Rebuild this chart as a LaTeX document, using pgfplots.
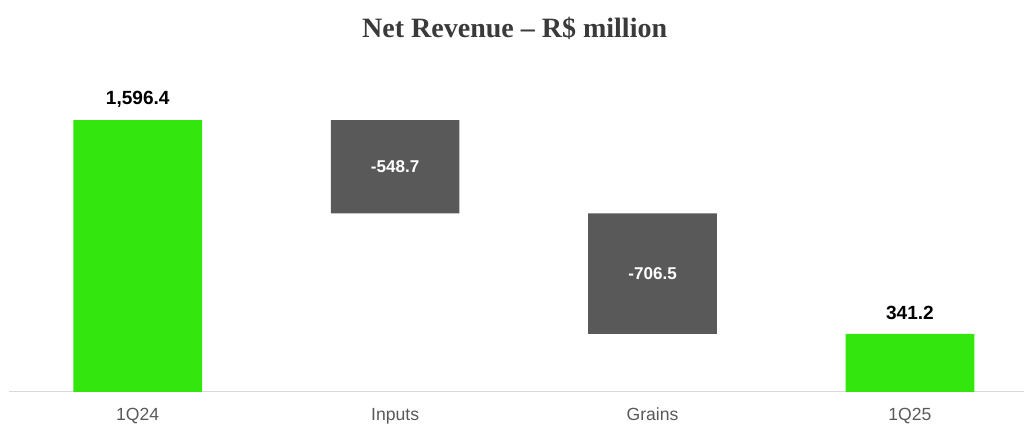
\documentclass[border=0pt]{standalone}
\usepackage{pgfplots}
\pgfplotsset{compat=1.18}
\usepackage{fontspec}
\setmainfont{Liberation Sans}
\newfontfamily\titlefont{Liberation Serif}
\definecolor{barGreen}{HTML}{33E60E}
\definecolor{barGray}{HTML}{595959}
\definecolor{labelGray}{HTML}{595959}
\definecolor{axisGray}{HTML}{D9D9D9}
\definecolor{titleGray}{HTML}{3A3A3A}

\begin{document}
\begin{tikzpicture}[x=1pt,y=1pt]
\path[use as bounding box] (0,0) rectangle (768,318);
\node[font=\titlefont\bfseries\fontsize{21}{25}\selectfont, text=titleGray] at (386,297) {Net Revenue – R\$ million};
\begin{axis}[
    at={(6.75pt,24pt)}, anchor=south west,
    scale only axis,
    width=761.25pt, height=230pt,
    xmin=-0.5, xmax=3.443,
    ymin=0, ymax=1800,
    axis y line=none,
    axis x line*=bottom,
    x axis line style={draw=axisGray, line width=0.75pt, -},
    ybar stacked,
    bar width=0.5,
    xtick={0,1,2,3},
    xticklabels={1Q24,Inputs,Grains,1Q25},
    major tick length=0pt,
    xticklabel style={font=\fontsize{13.2}{15}\selectfont, text=labelGray, anchor=base, yshift=-21.75pt},
    clip=false,
]
% invisible base of the floating bars
\addplot[draw=none, fill=none] coordinates {(0,0) (1,1047.7) (2,341.2) (3,0)};
% totals
\addplot[draw=none, fill=barGreen] coordinates {(0,1596.4) (1,0) (2,0) (3,341.2)};
% changes
\addplot[draw=none, fill=barGray] coordinates {(0,0) (1,548.7) (2,706.5) (3,0)};

\coordinate (t0) at (axis cs:0,1596.4);
\coordinate (t3) at (axis cs:3,341.2);
\coordinate (m1) at (axis cs:1,1322.05);
\coordinate (m2) at (axis cs:2,694.45);
\end{axis}
\node[font=\bfseries\fontsize{14.3}{16}\selectfont, yshift=15.75pt] at (t0) {1,596.4};
\node[font=\bfseries\fontsize{14.3}{16}\selectfont, yshift=15.75pt] at (t3) {341.2};
\node[font=\bfseries\fontsize{12.8}{15}\selectfont, text=white] at (m1) {-548.7};
\node[font=\bfseries\fontsize{12.8}{15}\selectfont, text=white] at (m2) {-706.5};
\end{tikzpicture}
\end{document}
